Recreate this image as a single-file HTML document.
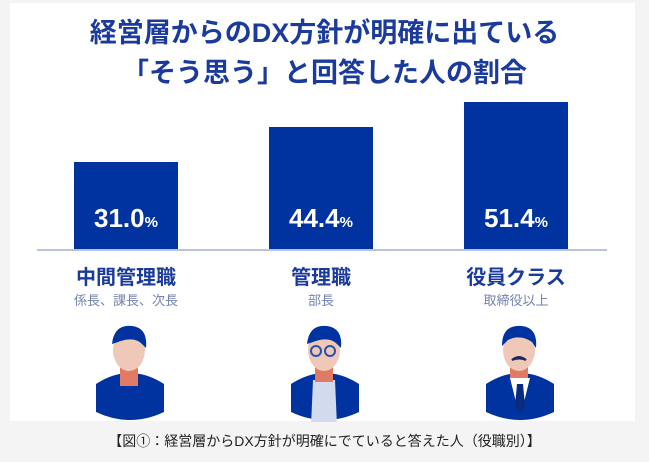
<!DOCTYPE html>
<html><head><meta charset="utf-8"><style>
body{margin:0;width:649px;height:462px;background:#f4f4f4;position:relative;overflow:hidden;font-family:"Liberation Sans","Noto Sans CJK JP",sans-serif}
.panel{position:absolute;left:10px;top:3px;width:625px;height:418px;background:#fff}
.t{position:absolute;left:0;width:649px;text-align:center;color:#1a3a9c;font-weight:bold;font-size:27px;line-height:32px}
.bar{position:absolute;background:#0033a0;width:104px}
.v{position:absolute;width:104px;text-align:center;color:#fff;font-weight:bold;font-size:26px;top:203px;line-height:30px}
.v small{font-size:15px}
.l{position:absolute;width:200px;text-align:center;color:#1a3a9c;font-weight:bold;font-size:20px;top:265px;line-height:26px}
.s{position:absolute;width:200px;text-align:center;color:#7583ad;font-size:13px;top:292px;line-height:18px}
.cap{position:absolute;left:0;width:649px;text-align:center;top:432px;font-size:14px;color:#222;line-height:18px}
svg{position:absolute}
</style></head><body>
<div class="panel"></div>
<div class="t" style="top:17px">経営層からのDX方針が明確に出ている</div>
<div class="t" style="top:57px">「そう思う」と回答した人の割合</div>
<div class="bar" style="left:74px;top:162px;height:88px"></div>
<div class="bar" style="left:269px;top:127px;height:123px"></div>
<div class="bar" style="left:464px;top:102px;height:148px"></div>
<div style="position:absolute;left:37px;top:249px;width:570px;height:2px;background:#b8c3e0"></div>
<div class="v" style="left:74px">31.0<small>%</small></div>
<div class="v" style="left:269px">44.4<small>%</small></div>
<div class="v" style="left:464px">51.4<small>%</small></div>
<div class="l" style="left:26px">中間管理職</div>
<div class="l" style="left:221px">管理職</div>
<div class="l" style="left:416px">役員クラス</div>
<div class="s" style="left:26px">係長、課長、次長</div>
<div class="s" style="left:221px">部長</div>
<div class="s" style="left:416px">取締役以上</div>
<svg style="left:90px;top:322px" width="80" height="100" viewBox="0 0 80 100">
<path d="M6 62 Q40 40 74 62 L74 90 Q40 106 6 90Z" fill="#0033a0"/>
<rect x="30" y="40" width="18" height="24" fill="#e07a62"/>
<ellipse cx="39" cy="28" rx="16" ry="21" fill="#f0c8b8"/>
<path d="M22 22 Q24 2 42 4 Q58 6 56 26 L52 22 Q44 14 28 20Z" fill="#0033a0"/>
</svg>
<svg style="left:285px;top:322px" width="80" height="100" viewBox="0 0 80 100">
<path d="M6 62 Q40 40 74 62 L74 90 Q40 106 6 90Z" fill="#0033a0"/>
<path d="M28 58 L50 58 L52 104 L26 104Z" fill="#d2dbee"/>
<rect x="30" y="40" width="18" height="20" fill="#e07a62"/>
<ellipse cx="39" cy="28" rx="16" ry="21" fill="#f0c8b8"/>
<path d="M22 22 Q24 2 42 4 Q58 6 56 26 L52 22 Q44 14 28 20Z" fill="#0033a0"/>
<circle cx="31" cy="29" r="5" fill="none" stroke="#2a50b0" stroke-width="2"/>
<circle cx="45" cy="29" r="5" fill="none" stroke="#2a50b0" stroke-width="2"/>
</svg>
<svg style="left:480px;top:322px" width="80" height="100" viewBox="0 0 80 100">
<path d="M6 62 Q40 40 74 62 L74 90 Q40 106 6 90Z" fill="#0033a0"/>
<path d="M30 56 L50 56 L44 80 L36 80Z" fill="#fff"/>
<path d="M37 62 L43 62 L45 84 L40 90 L35 84Z" fill="#0a2a80"/>
<rect x="30" y="40" width="18" height="16" fill="#e07a62"/>
<ellipse cx="39" cy="28" rx="16" ry="21" fill="#f0c8b8"/>
<path d="M22 24 Q22 2 42 4 Q58 6 56 26 L52 20 Q40 12 28 18Z" fill="#0033a0"/>
<path d="M32 38 Q39 32 46 38 Q39 35 32 38Z" fill="#1a2a60" stroke="#1a2a60" stroke-width="2"/>
</svg>
<div class="cap">【図①：経営層からDX方針が明確にでていると答えた人（役職別）】</div>
</body></html>
